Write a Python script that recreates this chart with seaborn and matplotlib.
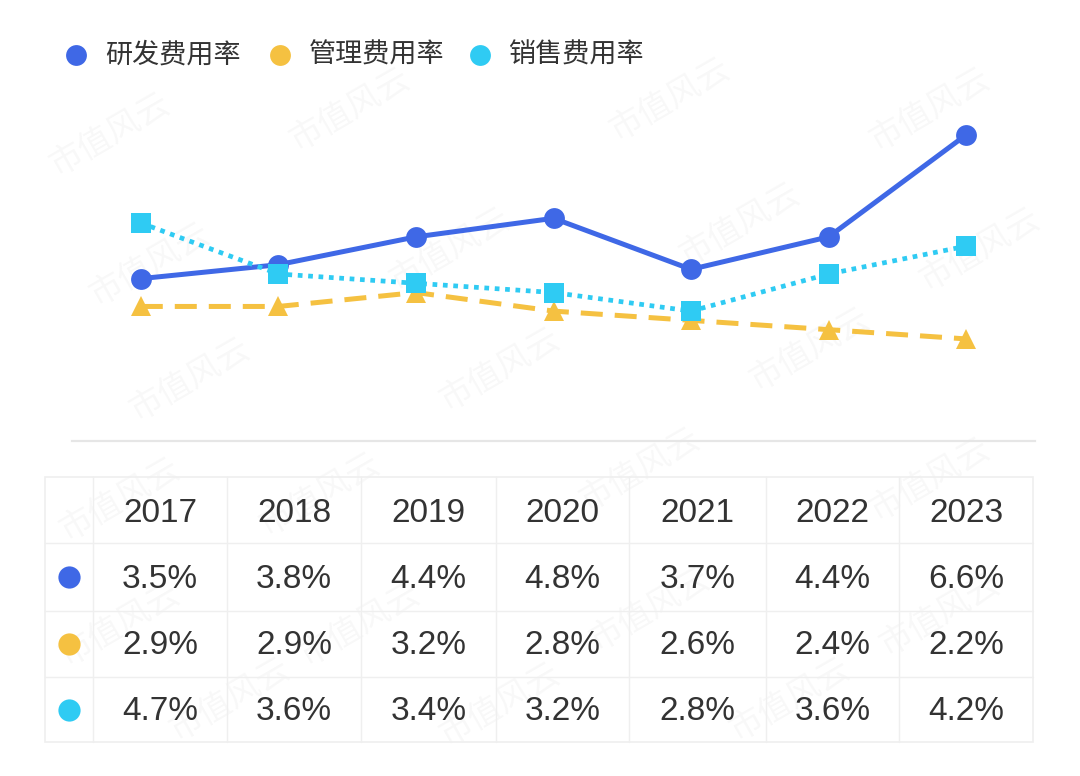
import matplotlib
matplotlib.use("Agg")
import matplotlib.pyplot as plt
from matplotlib.patches import Rectangle
import seaborn as sns

years = ["2017", "2018", "2019", "2020", "2021", "2022", "2023"]
rd_rate = [3.5, 3.8, 4.4, 4.8, 3.7, 4.4, 6.6]
admin_rate = [2.9, 2.9, 3.2, 2.8, 2.6, 2.4, 2.2]
sales_rate = [4.7, 3.6, 3.4, 3.2, 2.8, 3.6, 4.2]
series_names = ["研发费用率", "管理费用率", "销售费用率"]

BLUE = "#3F68E6"
YELLOW = "#F5C141"
CYAN = "#2FCBF3"
TXT = "#333333"

sns.set_theme(style="white")
plt.rcParams["font.family"] = ["Liberation Sans", "Noto Sans CJK SC", "DejaVu Sans"]

W, H = 1080, 776
fig = plt.figure(figsize=(W / 100, H / 100), dpi=100)
fig.patch.set_facecolor("white")

# watermark layer (behind everything)
wm = fig.add_axes([0, 0, 1, 1], zorder=0)
wm.set_xlim(0, W); wm.set_ylim(H, 0); wm.axis("off")
for (wx, wy) in [(110, 135), (350, 110), (670, 100), (930, 110), (150, 265), (450, 250),
                 (740, 225), (980, 250), (190, 380), (500, 370), (810, 350),
                 (120, 500), (320, 495), (640, 470), (930, 480), (120, 625), (360, 625),
                 (650, 610), (940, 615), (230, 700), (500, 705), (790, 700)]:
    wm.text(wx, wy, "市值风云", fontsize=24, color="#000000", alpha=0.03,
            rotation=30, ha="center", va="center",
            family=["Noto Sans CJK SC", "DejaVu Sans"])

# main line chart
ax = fig.add_axes([72 / W, 1 - 441 / H, (1035 - 72) / W, (441 - 100) / H], zorder=2)
ax.patch.set_alpha(0)

sns.lineplot(x=years, y=admin_rate, ax=ax, color=YELLOW, linewidth=3.6,
             marker="^", markersize=15, markeredgewidth=0, sort=False, zorder=3)
ax.lines[-1].set_linestyle((0, (4.4, 2.4)))
sns.lineplot(x=years, y=rd_rate, ax=ax, color=BLUE, linewidth=3.6,
             marker="o", markersize=15, markeredgewidth=0, sort=False, zorder=4)
sns.lineplot(x=years, y=sales_rate, ax=ax, color=CYAN, linewidth=3.4,
             marker="s", markersize=15, markeredgewidth=0, sort=False, zorder=5)
ax.lines[-1].set_linestyle((0, (1.0, 1.2)))

ax.set_xlim(-0.5, 6.5)
ax.set_ylim(0, 7.35)
ax.set_xticks([]); ax.set_yticks([])
ax.set_xlabel(""); ax.set_ylabel("")
for s in ["top", "left", "right"]:
    ax.spines[s].set_visible(False)
ax.spines["bottom"].set_color("#e6e6e6")
ax.spines["bottom"].set_linewidth(1.6)

# legend
colors = [BLUE, YELLOW, CYAN]
leg_x = [76, 280, 480]
leg = fig.add_axes([0, 0, 1, 1], zorder=3)
leg.set_xlim(0, W); leg.set_ylim(H, 0); leg.axis("off")
for name, c, lx in zip(series_names, colors, leg_x):
    leg.plot([lx], [55], marker="o", markersize=15, color=c, markeredgewidth=0)
    leg.text(lx + 29, 55, name, fontsize=19.5, color=TXT, va="center", ha="left",
             family=["Noto Sans CJK SC", "DejaVu Sans"])

# table
col_edges = [45, 93, 227, 361, 496, 629, 766, 899, 1033]
row_edges = [477, 543, 611, 677, 742]
grid_c = "#efefef"
leg.add_patch(Rectangle((col_edges[0], row_edges[0]), col_edges[-1] - col_edges[0],
                        row_edges[-1] - row_edges[0], fill=False, edgecolor=grid_c, lw=1.2))
for xe in col_edges[1:-1]:
    leg.plot([xe, xe], [row_edges[0], row_edges[-1]], color=grid_c, lw=1.0)
for ye in row_edges[1:-1]:
    leg.plot([col_edges[0], col_edges[-1]], [ye, ye], color=grid_c, lw=1.0)

centers_x = [(col_edges[i] + col_edges[i + 1]) / 2 for i in range(len(col_edges) - 1)]
centers_y = [(row_edges[i] + row_edges[i + 1]) / 2 for i in range(len(row_edges) - 1)]
for j, yr in enumerate(years):
    leg.text(centers_x[j + 1], centers_y[0] + 3, yr, fontsize=24, color=TXT,
             ha="center", va="center")
for i, (vals, c) in enumerate(zip([rd_rate, admin_rate, sales_rate], colors)):
    cy = centers_y[i + 1]
    leg.plot([69], [cy], marker="o", markersize=16, color=c, markeredgewidth=0)
    for j, v in enumerate(vals):
        leg.text(centers_x[j + 1], cy + 2, f"{v:.1f}%", fontsize=24, color=TXT,
                 ha="center", va="center")

fig.savefig("out.png", dpi=100, facecolor="white")
